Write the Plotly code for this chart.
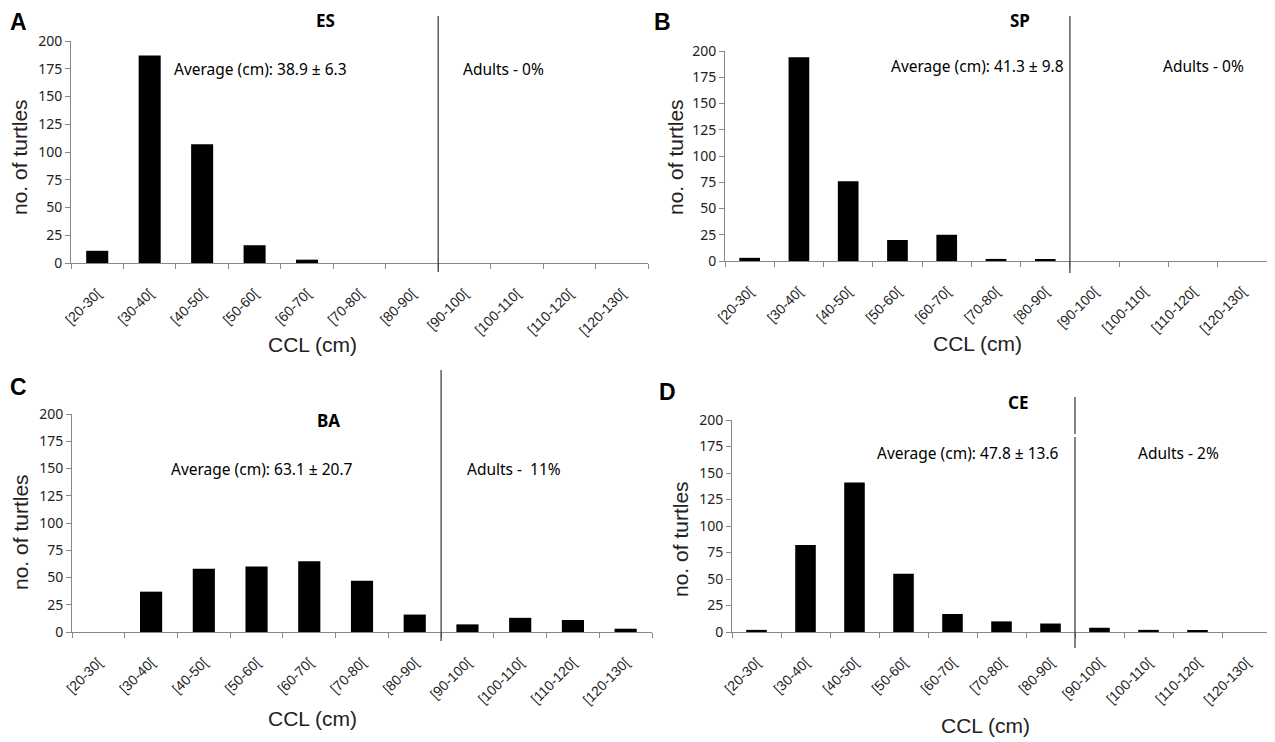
import plotly.graph_objects as go

OFF = 8  # page body margin
W, H = 1275 - OFF, 742 - OFF

categories = ["[20-30[", "[30-40[", "[40-50[", "[50-60[", "[60-70[", "[70-80[",
              "[80-90[", "[90-100[", "[100-110[", "[110-120[", "[120-130["]
es_counts = [11, 187, 107, 16, 3, 0, 0, 0, 0, 0, 0]
sp_counts = [3, 194, 76, 20, 25, 2, 1, 0, 0, 0, 0]
ba_counts = [0, 37, 58, 60, 65, 47, 16, 7, 13, 11, 3]
ce_counts = [2, 82, 141, 55, 17, 10, 8, 4, 2, 1, 0]

panel_letters = ["A", "B", "C", "D"]
panel_titles = ["ES", "SP", "BA", "CE"]
average_texts = ["Average (cm): 38.9 ± 6.3", "Average (cm): 41.3 ± 9.8",
                 "Average (cm): 63.1 ± 20.7", "Average (cm): 47.8 ± 13.6"]
adult_texts = ["Adults - 0%", "Adults - 0%", "Adults -  11%", "Adults - 2%"]
y_ticks = [0, 25, 50, 75, 100, 125, 150, 175, 200]

series = [es_counts, sp_counts, ba_counts, ce_counts]

# layout in screen pixels: (x_left, x_right, y_zero_px, y_200_px)
panels = [
    (71, 648, 263, 41),
    (725, 1267, 261, 51),
    (72, 652, 632, 414),
    (732, 1271, 632, 420),
]
# separator segments (screen px); D has a small break in the reference
sep = [[(16, 272)], [(16, 273)], [(370, 641)], [(397, 434), (437, 648)]]
letter_pos = [(18, 22), (662, 22), (18, 387), (668, 392)]
title_pos = [(325, 20), (1020, 20), (328, 420), (1018, 402)]
avg_pos = [(260, 69), (978, 66), (262, 469), (968, 453)]
adult_pos = [(503, 69), (1203, 66), (514, 469), (1178, 453)]
ytitle_pos = [(20, 157), (676, 157), (20, 532), (680, 539)]
xtitle_pos = [(312, 345), (978, 343), (312, 718), (985, 725)]

def px(x):
    return (x - OFF) / W

def py(y):
    return 1 - (y - OFF) / H

fig = go.Figure()
annotations = []
shapes = []
tick_font = dict(family="Liberation Sans", size=14, color="#222")

def note(text, pos, font, angle=0):
    return dict(text=text, x=px(pos[0]), y=py(pos[1]), xref="paper", yref="paper",
                showarrow=False, xanchor="center", yanchor="middle", textangle=angle, font=font)

for i, (vals, (xl, xr, y0, y2)) in enumerate(zip(series, panels)):
    n = i + 1
    xa = "x" if n == 1 else f"x{n}"
    ya = "y" if n == 1 else f"y{n}"
    fig.add_trace(go.Bar(x=categories, y=vals, marker=dict(color="black", line=dict(width=0)),
                         xaxis=xa, yaxis=ya, showlegend=False))
    xkey = "xaxis" if n == 1 else f"xaxis{n}"
    ykey = "yaxis" if n == 1 else f"yaxis{n}"
    fig.layout[xkey] = dict(domain=[px(xl), px(xr)], anchor=ya, type="category",
                            categoryorder="array", categoryarray=categories, automargin=False,
                            tickangle=-45, tickson="boundaries", ticks="outside", ticklen=5,
                            ticklabelstandoff=16,
                            tickcolor="#888", showline=True, linecolor="#888", linewidth=1,
                            showgrid=False, zeroline=False, tickfont=tick_font)
    fig.layout[ykey] = dict(domain=[py(y0), py(y2)], anchor=xa, range=[0, 200], automargin=False,
                            tickvals=y_ticks, ticks="outside", ticklen=5, tickcolor="#888",
                            showline=True, linecolor="#888", linewidth=1, showgrid=False,
                            zeroline=False, tickfont=dict(family="Noto Sans", size=14, color="#222"))
    x_sep = xl + 7 * (xr - xl) / 11
    for (s0, s1) in sep[i]:
        shapes.append(dict(type="line", xref="paper", yref="paper", x0=px(x_sep), x1=px(x_sep),
                           y0=py(s0), y1=py(s1), line=dict(color="#333", width=1.2)))
    annotations.append(note(f"<b>{panel_letters[i]}</b>", letter_pos[i],
                            dict(family="Liberation Sans", size=23, color="black")))
    annotations.append(note(f"<b>{panel_titles[i]}</b>", title_pos[i],
                            dict(family="Noto Sans", size=17, color="black")))
    annotations.append(note(average_texts[i], avg_pos[i],
                            dict(family="Noto Sans", size=15.5, color="black")))
    annotations.append(note(adult_texts[i], adult_pos[i],
                            dict(family="Noto Sans", size=15.5, color="black")))
    annotations.append(note("no. of turtles", ytitle_pos[i],
                            dict(family="Liberation Sans", size=21, color="#222"), angle=-90))
    annotations.append(note("CCL (cm)", xtitle_pos[i],
                            dict(family="Liberation Sans", size=21, color="#222")))

fig.update_layout(width=W, height=H, margin=dict(l=0, r=0, t=0, b=0, autoexpand=False),
                  paper_bgcolor="white", plot_bgcolor="white", bargap=0.58,
                  annotations=annotations, shapes=shapes)

fig.write_html("out.html")
